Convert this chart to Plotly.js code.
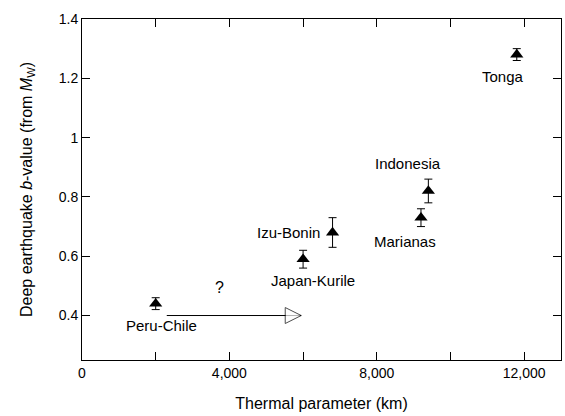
<!DOCTYPE html>
<html>
<head>
<meta charset="utf-8">
<script src="https://cdn.plot.ly/plotly-3.0.1.min.js"></script>
<style>
html,body{margin:0;padding:0;background:#fff;}
#chart{width:565px;height:416px;}
</style>
</head>
<body>
<div id="chart"></div>
<script>
// Data
var regions = ["Peru-Chile", "Japan-Kurile", "Izu-Bonin", "Marianas", "Indonesia", "Tonga"];
var thermalParam = [2000, 6000, 6800, 9200, 9400, 11800];
var bValue = [0.44, 0.59, 0.68, 0.73, 0.82, 1.28];
var bError = [0.02, 0.03, 0.05, 0.03, 0.04, 0.02];
var xTickVals = [0, 4000, 8000, 12000];
var xTickText = ["0", "4,000", "8,000", "12,000"];
var yTickVals = [0.4, 0.6, 0.8, 1.0, 1.2, 1.4];
var yTickText = ["0.4", "0.6", "0.8", "1", "1.2", "1.4"];
// Arrow (Peru-Chile shifted "?")
var arrowX = [2300, 5950];
var arrowY = [0.4, 0.4];
var arrowLabel = "?";

// label offsets (styling, pixels)
var labelStyle = [
  {xshift: 6, yshift: -22, xanchor: "center"},
  {xshift: 10, yshift: -21, xanchor: "center"},
  {xshift: -11, yshift: 0, xanchor: "right"},
  {xshift: -16, yshift: -24, xanchor: "center"},
  {xshift: -20, yshift: 27, xanchor: "center"},
  {xshift: -14, yshift: -22, xanchor: "center"}
];

var font = "Liberation Sans, Arial, Helvetica, sans-serif";

var traces = [
  {
    x: thermalParam, y: bValue, type: "scatter", mode: "markers",
    marker: {symbol: "triangle-up", size: 11.5, color: "#000"},
    error_y: {type: "data", array: bError, visible: true, color: "#000", thickness: 1, width: 4},
    hoverinfo: "skip", showlegend: false
  },
  {
    x: arrowX, y: arrowY, type: "scatter", mode: "lines+markers",
    line: {color: "#000", width: 1},
    marker: {symbol: "arrow-right", size: [0, 16], color: "#fff", line: {color: "#000", width: 1}},
    hoverinfo: "skip", showlegend: false
  }
];

var annotations = regions.map(function (r, i) {
  return {
    x: thermalParam[i], y: bValue[i], xref: "x", yref: "y", text: r,
    showarrow: false, xanchor: labelStyle[i].xanchor, yanchor: "middle",
    xshift: labelStyle[i].xshift, yshift: labelStyle[i].yshift,
    font: {family: font, size: 15, color: "#000"}
  };
});
annotations.push({
  x: (arrowX[0] + arrowX[1]) / 2, y: arrowY[0], xref: "x", yref: "y", text: arrowLabel,
  showarrow: false, xanchor: "center", yanchor: "middle", xshift: -14, yshift: 28,
  font: {family: font, size: 16, color: "#000"}
});

var layout = {
  width: 565, height: 416,
  margin: {l: 82, r: 4, t: 19, b: 56},
  paper_bgcolor: "#fff", plot_bgcolor: "#fff",
  font: {family: font, color: "#000"},
  xaxis: {
    range: [0, 13000], tickmode: "array", tickvals: xTickVals, ticktext: xTickText,
    ticks: "inside", ticklen: 8, tickwidth: 1, tickcolor: "#000",
    minor: {tickmode: "linear", tick0: 0, dtick: 2000, ticks: "inside", ticklen: 8, tickwidth: 1, tickcolor: "#000", showgrid: false},
    showline: true, linecolor: "#000", linewidth: 1, mirror: "allticks",
    showgrid: false, zeroline: false,
    tickfont: {family: font, size: 14, color: "#000"},
    title: {text: "Thermal parameter (km)", font: {family: font, size: 16, color: "#000"}, standoff: 18}
  },
  yaxis: {
    range: [0.25, 1.4], tickmode: "array", tickvals: yTickVals, ticktext: yTickText,
    ticks: "inside", ticklen: 8, tickwidth: 1, tickcolor: "#000",
    showline: true, linecolor: "#000", linewidth: 1, mirror: "allticks",
    showgrid: false, zeroline: false,
    tickfont: {family: font, size: 14, color: "#000"},
    title: {text: "Deep earthquake <i>b</i>-value (from <i>M</i><sub>W</sub>)", font: {family: font, size: 16, color: "#000"}, standoff: 22}
  },
  annotations: annotations
};

Plotly.newPlot("chart", traces, layout, {displayModeBar: false, staticPlot: true});
</script>
</body>
</html>
